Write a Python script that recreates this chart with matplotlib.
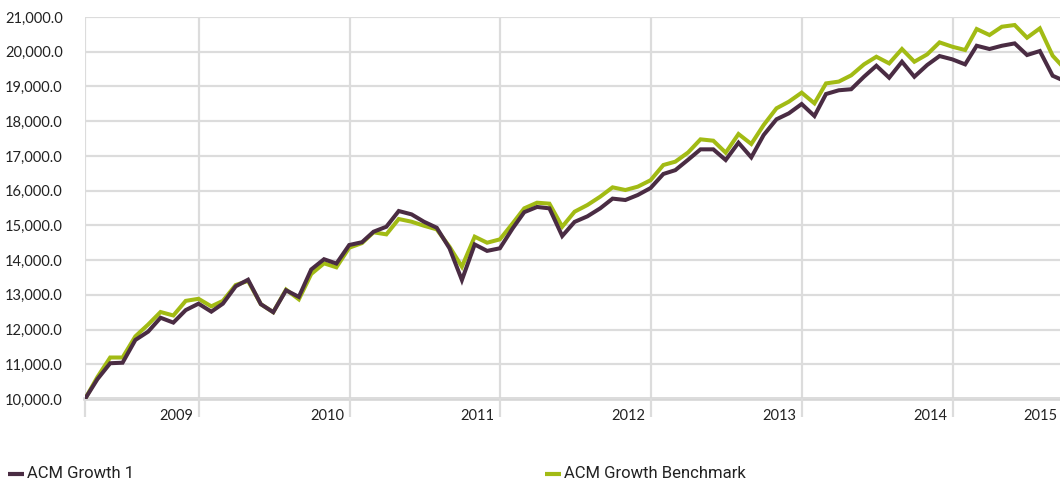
import matplotlib
matplotlib.use("Agg")
import matplotlib.pyplot as plt
import matplotlib.transforms as mtransforms
import matplotlib.dates as mdates
from matplotlib.lines import Line2D
import pandas as pd

# ---- data ----
months = pd.date_range("2008-03-31", periods=79, freq="ME")
growth1 = [10000, 10570, 11030, 11045, 11700, 11940, 12340, 12200, 12560, 12745,
           12515, 12745, 13245, 13435, 12730, 12500, 13130, 12940, 13730, 14025,
           13900, 14434, 14515, 14817, 14961, 15413, 15317, 15105, 14932, 14339,
           13426, 14450, 14265, 14340, 14914, 15380, 15530, 15490, 14693, 15100,
           15260, 15490, 15770, 15730, 15874, 16075, 16480, 16590, 16890, 17189,
           17189, 16882, 17380, 16958, 17602, 18054, 18226, 18494, 18149, 18782,
           18890, 18920, 19280, 19597, 19251, 19712, 19280, 19617, 19876, 19780,
           19636, 20172, 20078, 20172, 20240, 19905, 20020, 19309, 19150]
benchmark = [10000, 10630, 11195, 11195, 11804, 12145, 12505, 12405, 12826, 12885,
             12668, 12826, 13283, 13400, 12730, 12500, 13150, 12870, 13600, 13907,
             13792, 14356, 14490, 14800, 14741, 15183, 15105, 14990, 14885, 14385,
             13810, 14674, 14500, 14597, 15057, 15490, 15653, 15625, 14962, 15394,
             15586, 15826, 16095, 16018, 16114, 16300, 16738, 16834, 17100, 17477,
             17438, 17093, 17630, 17343, 17890, 18370, 18562, 18821, 18514, 19088,
             19140, 19320, 19636, 19856, 19664, 20078, 19712, 19923, 20269, 20144,
             20049, 20654, 20481, 20720, 20769, 20404, 20673, 19885, 19500]
series_names = ["ACM Growth 1", "ACM Growth Benchmark"]
year_labels = ["2009", "2010", "2011", "2012", "2013", "2014", "2015"]
y_ticks = list(range(10000, 21001, 1000))

DARK = "#4a2c43"
GREEN = "#a2bb14"
GRID = "#dcdcdc"
TXT = "#222222"
FONT = "Lato"
LEG_FONT = "Roboto"

xnum = mdates.date2num(months.to_pydatetime())

fig = plt.figure(figsize=(10.6, 4.84), dpi=100)
ax = fig.add_axes([85 / 1060, 1 - 399 / 484, 975 / 1060, 382 / 484])

ax.plot(xnum, benchmark, color=GREEN, lw=2.9, solid_joinstyle="miter", zorder=3)
ax.plot(xnum, growth1, color=DARK, lw=2.9, solid_joinstyle="miter", zorder=4)

x0 = xnum[0]
x1 = xnum[0] + (xnum[-1] - xnum[0]) * (77.6 / 78)
ax.set_xlim(x0, x1)
ax.set_ylim(10000, 21000)

# horizontal grid
ax.set_yticks(y_ticks)
ax.set_yticklabels([f"{v:,.1f}" for v in y_ticks], fontsize=10.5, color=TXT, family=FONT)
ax.tick_params(axis="y", length=0, pad=16)
ax.grid(axis="y", color=GRID, lw=1.6, zorder=0)

# vertical year gridlines (Jan 1 of each year) extending below axis as ticks
year_pos = [mdates.date2num(pd.Timestamp(f"{y}-01-01").to_pydatetime()) for y in year_labels]
vis_years = [p for p in year_pos if p <= x1]
vticks = [x0] + vis_years
ax.set_xticks(vticks)
ax.set_xticklabels([])
ax.tick_params(axis="x", length=13, width=1.6, color=GRID, direction="out")
for p in vticks:
    ax.axvline(p, color=GRID, lw=1.6, zorder=0)

for s in ["top", "right", "left"]:
    ax.spines[s].set_visible(False)
ax.spines["bottom"].set_color("#d6d6d6")
ax.spines["bottom"].set_linewidth(2.6)
ax.spines["bottom"].set_zorder(1)

# year labels
trans = mtransforms.blended_transform_factory(ax.transData, ax.transAxes)
for lab, p in zip(year_labels, year_pos):
    if p <= x1:
        ax.annotate(lab, xy=(p, 0), xycoords=trans, xytext=(-4, -7),
                    textcoords="offset points", ha="right", va="top",
                    fontsize=10.5, color=TXT, family=FONT)
    else:
        ax.annotate(lab, xy=(1, 0), xycoords="axes fraction", xytext=(-1.5, -7),
                    textcoords="offset points", ha="right", va="top",
                    fontsize=10.5, color=TXT, family=FONT)

# legend (manual)
def legend_item(xpx, color, label):
    y = 1 - 474 / 484
    fig.add_artist(Line2D([xpx / 1060, (xpx + 16) / 1060], [y, y], color=color,
                          lw=3.0, solid_capstyle="butt", transform=fig.transFigure))
    fig.text((xpx + 19) / 1060, y, label, fontsize=12, color=TXT, family=LEG_FONT,
             va="center", ha="left")

legend_item(8, DARK, series_names[0])
legend_item(545, GREEN, series_names[1])

fig.savefig("out.png", dpi=100)
